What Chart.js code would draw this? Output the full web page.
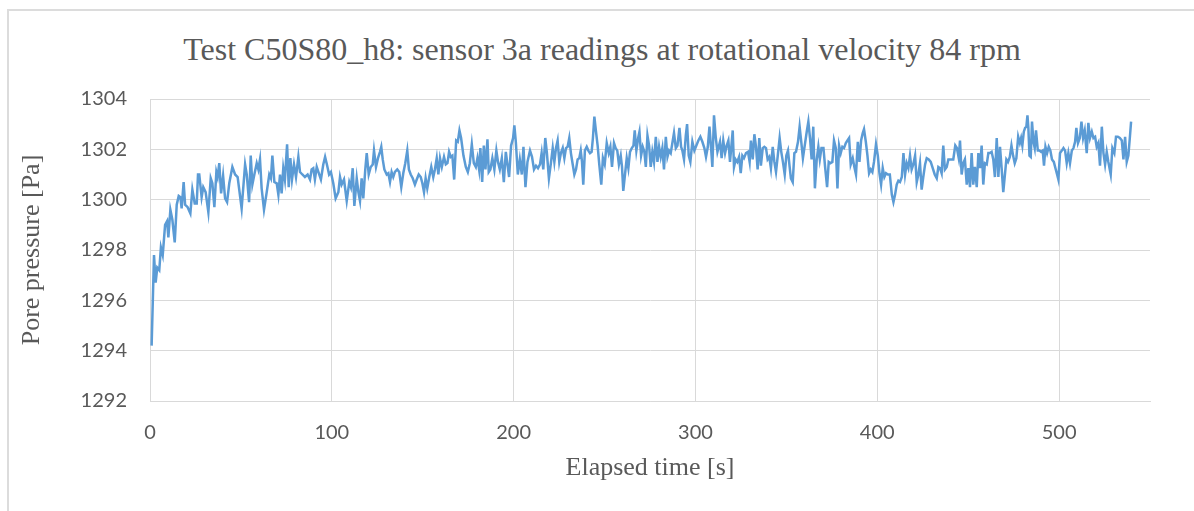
<!DOCTYPE html>
<html>
<head>
<meta charset="utf-8">
<script src="https://cdn.jsdelivr.net/npm/chart.js@4.4.1/dist/chart.umd.min.js"></script>
<style>
    html, body { margin: 0; padding: 0; background: #fff; overflow: hidden; }
    .frame { position: absolute; left: 7px; top: 9px; width: 1300px; height: 600px;
             border-left: 2px solid #dcdcdc; border-top: 2px solid #dcdcdc; }
    .chart-title { position: absolute; left: 0; top: 33px; width: 1204px; text-align: center;
                   font: 32px/32px "Liberation Serif", "Times New Roman", serif; color: #595959; white-space: nowrap; }
    .chart-container { position: absolute; left: 0; top: 0; width: 1194px; height: 511px; }
</style>
</head>
<body>
<div class="frame"></div>
<div class="chart-title">Test C50S80_h8: sensor 3a readings at rotational velocity 84 rpm</div>
<div class="chart-container"><canvas id="poreChart"></canvas></div>
<script>
// values (time in s, pressure in Pa)
const elapsedTime = [
    0.9, 2.2, 3.1, 4.0, 5.1, 6.0, 7.0, 8.3, 9.4, 10.1,
    11.2, 12.3, 13.6, 14.7, 15.8, 16.7, 17.4, 18.5, 19.3, 20.7,
    22.2, 23.3, 24.6, 25.7, 26.4, 27.1, 28.4, 29.3, 30.6, 32.1,
    33.4, 34.3, 35.4, 36.5, 37.2, 38.1, 39.1, 40.2, 41.3, 42.4,
    43.6, 45.3, 46.8, 48.2, 50.4,
    52.3, 53.2, 54.5, 55.4, 56.3, 57.4, 58.7, 59.6, 60.5, 61.4,
    62.7, 64.2, 65.6, 66.5, 67.3, 68.4, 69.7, 70.6, 71.5, 72.4,
    73.3, 74.2, 75.4, 76.3, 77.2, 78.1, 79.2, 80.3, 81.6, 82.5,
    83.8, 85.2, 86.7, 88.0, 88.9, 89.8, 90.7, 91.7, 92.6, 94.0,
    95.3, 96.3, 97.3, 98.5, 99.5, 100.8, 102.1, 103.6,
    104.5, 105.4, 106.7, 108.2, 109.6, 110.5, 111.5, 112.4, 113.7, 114.6,
    115.5, 116.4, 117.3, 118.4, 119.2, 120.3, 121.4, 122.5, 123.2, 124.3,
    125.4, 126.5, 127.2, 128.0, 128.9, 130.2, 131.1, 132.0, 132.9, 133.8,
    134.7, 136.0, 137.1, 138.2, 139.3, 140.4, 141.5, 142.4, 143.4, 144.5,
    145.7, 146.7, 147.8, 148.9, 149.8, 150.7, 151.6, 152.5, 153.6, 154.7,
    155.8, 156.7,
    157.7, 158.6, 159.5, 160.5, 161.7, 162.7, 163.6, 164.5, 165.4, 166.3,
    167.3, 168.4, 169.3, 170.2, 171.1, 172.4, 173.7, 174.8, 175.9, 177.0,
    178.1, 179.2, 180.1, 181.0, 181.7, 182.7, 183.6, 184.5, 185.6, 186.3,
    187.2, 188.3, 189.4, 190.5, 191.4, 192.4, 193.5, 194.6, 195.7, 196.6,
    197.5, 198.6, 199.7, 200.4, 201.2, 202.3, 203.4, 204.5, 205.4, 206.5,
    207.6,
    209.0, 210.1, 211.2, 212.3, 213.4, 214.5, 215.4, 216.3, 217.4, 218.3,
    219.4, 220.5, 221.5, 222.4, 223.3, 224.2, 225.1, 226.0, 227.0, 227.9,
    228.8, 229.7, 230.6, 231.5, 232.5, 233.4, 234.3, 235.2, 236.1, 236.9,
    237.6, 238.3, 239.2, 240.2, 241.1, 242.0, 242.9, 243.6, 244.4, 245.3,
    246.2, 247.1, 248.2, 249.1, 250.1, 251.2, 252.3, 253.2, 254.1, 255.2,
    256.1, 257.0, 257.9, 258.9, 259.6, 260.3,
    262.2, 263.1, 264.0, 265.0, 265.9, 266.6, 267.5, 268.5, 269.2, 270.1,
    271.0, 271.9, 272.7, 273.6, 274.5, 275.4, 276.3, 277.2, 278.2, 279.1,
    280.0, 280.9, 281.8, 282.7, 283.7, 284.6, 285.5, 286.4, 287.3, 288.2,
    289.2, 290.1, 291.2, 292.1, 292.8, 293.7, 294.7, 295.4, 296.3, 297.2,
    298.3, 299.4, 300.5, 301.6, 302.7, 303.8, 304.9, 305.8, 306.8, 307.7,
    308.6, 309.3, 310.2, 311.2, 312.1,
    313.5, 314.4, 315.3, 316.3, 317.2, 318.1, 319.0, 319.9, 320.5, 321.2,
    322.1, 323.0, 324.0, 324.9, 325.8, 326.7, 327.8, 328.9, 329.8, 330.5,
    331.5, 332.4, 333.3, 334.2, 335.1, 336.0, 337.0, 337.9, 338.8, 339.7,
    340.6, 341.5, 342.5, 343.4, 344.3, 345.2, 346.3, 347.2, 348.1, 349.1,
    350.0, 350.9, 351.8, 352.5, 353.5, 354.4, 355.3, 356.4, 357.3, 358.2,
    359.1, 360.1, 361.2, 362.1, 363.0, 363.9, 364.8, 365.7,
    366.7, 367.6, 368.4, 369.3, 370.4, 371.3, 372.4, 373.3, 374.2, 375.3,
    376.2, 377.2, 378.1, 379.0, 379.9, 380.8, 381.7, 382.7, 383.6, 384.5,
    385.4, 386.5, 387.4, 388.3, 389.3, 390.2, 391.1, 392.0, 392.7, 393.7,
    394.6, 395.5, 396.4, 397.3, 398.2, 399.3, 400.3, 401.2, 402.1, 403.0,
    403.9, 404.8, 405.8, 406.9, 408.0, 408.9, 409.8, 410.7, 411.6, 412.5,
    413.5, 414.4, 415.3, 416.2, 417.1,
    418.0, 418.9, 419.8, 420.8, 421.7, 422.6, 423.5, 424.4, 425.3, 426.3,
    427.2, 428.3, 429.4, 430.5, 431.6, 432.7, 433.6, 434.5, 435.4, 436.3,
    437.2, 438.2, 439.1, 440.4, 441.8, 442.9, 443.8, 444.8, 445.5, 446.4,
    447.3, 448.2, 449.2, 450.1, 451.0, 451.9, 452.8, 453.7, 454.7, 455.6,
    456.5, 457.4, 458.3, 459.2, 460.2, 461.1, 462.0, 462.9, 463.8, 464.7,
    465.7, 466.6, 467.5, 468.4, 469.3,
    471.0, 471.9, 472.9, 473.8, 474.7, 475.6, 476.5, 477.5, 478.4, 479.1,
    479.8, 480.6, 481.3, 482.0, 482.6, 483.1, 483.7, 484.4, 485.1, 485.9,
    486.6, 487.3, 488.3, 489.2, 490.1, 491.0, 491.7, 492.5, 493.4, 494.3,
    495.2, 496.1, 497.1, 498.0, 498.9, 499.6, 500.5, 501.5, 502.4, 503.3,
    504.2, 505.1, 506.0, 507.0, 507.9, 508.8, 509.5, 510.4, 511.4, 512.3,
    513.2, 514.1, 515.2, 516.1, 517.0, 518.0, 518.9, 519.8, 520.7, 521.6,
    522.5, 523.5, 524.4, 525.3, 526.2, 527.1, 528.4, 529.3, 530.4, 531.3,
    532.3, 533.4, 534.5, 535.4, 536.3, 537.2, 538.1, 538.9, 539.6
];

const porePressure = [
    1294.2, 1297.8, 1296.7, 1297.3, 1297.2, 1298.1, 1297.8, 1299.0, 1299.15, 1298.5,
    1299.6, 1299.2, 1298.3, 1299.8, 1300.15, 1300.1, 1299.65, 1300.7, 1299.8, 1299.7,
    1299.45, 1300.4, 1299.85, 1299.85, 1301.0, 1301.0, 1300.1, 1300.5, 1300.3, 1299.5,
    1300.85, 1300.65, 1299.7, 1301.1, 1300.9, 1301.45, 1300.25, 1300.95, 1300.05, 1299.9,
    1300.65, 1301.3, 1301.0, 1300.9, 1299.65,
    1301.4, 1301.0, 1299.9, 1301.75, 1300.6, 1301.0, 1301.45, 1301.2, 1301.6, 1300.45,
    1299.6, 1300.3, 1301.0, 1300.85, 1301.75, 1300.7, 1300.65, 1300.2, 1301.0, 1300.25,
    1301.25, 1300.8, 1302.2, 1300.5, 1301.65, 1300.8, 1301.4, 1300.9, 1301.7, 1301.1,
    1301.0, 1300.9, 1301.0, 1300.8, 1301.2, 1301.25, 1300.8, 1301.3, 1301.1, 1300.8,
    1301.4, 1301.7, 1301.4, 1301.0, 1301.1, 1300.65, 1300.05, 1300.3,
    1300.9, 1300.6, 1300.8, 1299.95, 1300.7, 1300.5, 1301.25, 1299.75, 1300.85, 1300.3,
    1299.95, 1300.85, 1300.05, 1301.2, 1301.85, 1301.0, 1301.3, 1301.4, 1301.95, 1301.3,
    1301.65, 1301.9, 1302.1, 1301.6, 1301.2, 1301.0, 1301.05, 1300.7, 1301.1, 1300.9,
    1301.1, 1301.2, 1301.1, 1300.5, 1301.05, 1301.45, 1301.95, 1301.2, 1301.0, 1300.85,
    1300.6, 1300.8, 1301.0, 1300.9, 1300.65, 1300.3, 1300.85, 1300.45, 1300.9, 1301.3,
    1300.9, 1301.2,
    1301.65, 1301.0, 1301.65, 1301.3, 1301.7, 1301.4, 1301.45, 1301.9, 1301.7, 1301.75,
    1300.8, 1302.35, 1302.3, 1302.75, 1302.45, 1301.75, 1301.3, 1301.1, 1301.45, 1302.2,
    1301.45, 1301.3, 1301.65, 1301.2, 1302.05, 1300.7, 1302.15, 1301.2, 1302.4, 1301.1,
    1301.2, 1301.65, 1301.2, 1301.95, 1301.5, 1301.2, 1301.65, 1300.7, 1301.9, 1301.4,
    1300.9, 1302.15, 1302.45, 1302.95, 1302.3, 1301.0, 1301.6, 1301.0, 1302.1, 1300.5,
    1301.5,
    1301.95, 1301.7, 1301.2, 1301.35, 1301.25, 1301.4, 1301.85, 1301.2, 1302.45, 1301.85,
    1300.85, 1301.45, 1302.05, 1301.5, 1302.05, 1302.35, 1301.5, 1301.85, 1302.05, 1301.65,
    1302.05, 1302.1, 1302.45, 1301.85, 1301.4, 1301.0, 1301.2, 1301.6, 1301.65, 1301.95,
    1301.5, 1300.6, 1301.95, 1302.1, 1301.95, 1301.85, 1301.9, 1302.45, 1303.3, 1302.7,
    1302.15, 1301.4, 1300.6, 1301.65, 1301.4, 1302.25, 1301.85, 1302.1, 1301.3, 1302.25,
    1302.05, 1301.95, 1301.4, 1301.75, 1301.3, 1300.35,
    1301.65, 1301.25, 1301.9, 1302.05, 1302.15, 1302.75, 1301.95, 1302.45, 1302.7, 1301.75,
    1302.1, 1301.9, 1301.3, 1302.55, 1302.15, 1301.3, 1301.9, 1301.5, 1302.5, 1301.5,
    1302.1, 1301.7, 1302.05, 1301.2, 1302.5, 1301.7, 1301.95, 1301.85, 1302.25, 1302.65,
    1302.05, 1302.15, 1302.85, 1302.1, 1301.95, 1301.6, 1302.55, 1303.0, 1301.75, 1301.5,
    1302.3, 1301.95, 1302.15, 1302.35, 1302.5, 1302.3, 1302.05, 1301.7, 1302.1, 1302.9,
    1302.05, 1301.3, 1303.35, 1302.45, 1301.9,
    1302.3, 1301.65, 1302.35, 1301.85, 1302.15, 1302.35, 1301.5, 1302.25, 1302.75, 1301.3,
    1301.6, 1301.5, 1301.7, 1301.05, 1301.75, 1301.65, 1301.85, 1301.9, 1301.5, 1302.35,
    1301.6, 1302.6, 1302.1, 1301.2, 1302.45, 1301.35, 1302.05, 1302.1, 1302.05, 1301.6,
    1301.7, 1301.25, 1302.1, 1301.5, 1301.1, 1301.7, 1302.45, 1301.9, 1301.5, 1301.0,
    1301.75, 1301.95, 1301.3, 1300.85, 1300.7, 1301.85, 1301.9, 1302.3, 1302.9, 1302.3,
    1301.65, 1302.15, 1302.7, 1303.1, 1302.45, 1301.6, 1302.9, 1300.45,
    1301.6, 1302.1, 1301.6, 1302.05, 1302.05, 1301.3, 1300.5, 1301.5, 1301.45, 1301.5,
    1302.35, 1302.05, 1300.45, 1302.15, 1301.85, 1302.1, 1302.05, 1302.25, 1302.35, 1302.45,
    1301.4, 1301.65, 1301.3, 1301.0, 1302.3, 1301.5, 1302.35, 1302.65, 1302.8, 1302.3,
    1301.75, 1301.05, 1301.2, 1301.1, 1301.5, 1302.2, 1301.75, 1301.05, 1300.6, 1301.25,
    1300.9, 1301.05, 1301.0, 1301.0, 1300.2, 1299.9, 1300.2, 1300.6, 1300.75, 1300.7,
    1300.9, 1301.85, 1301.0, 1301.45, 1301.25,
    1301.75, 1301.2, 1301.4, 1301.75, 1300.7, 1301.0, 1301.45, 1300.4, 1300.9, 1301.4,
    1301.65, 1301.6, 1301.5, 1301.25, 1301.0, 1300.85, 1301.3, 1301.25, 1301.05, 1302.15,
    1301.2, 1301.3, 1301.6, 1301.6, 1301.6, 1302.15, 1302.05, 1301.65, 1302.35, 1301.0,
    1301.45, 1301.6, 1300.6, 1301.25, 1300.5, 1301.85, 1300.6, 1301.3, 1300.5, 1301.85,
    1301.25, 1302.15, 1300.6, 1301.45, 1301.4, 1301.85, 1301.85, 1301.9, 1301.6, 1300.9,
    1302.45, 1300.9, 1302.1, 1301.25, 1300.3,
    1301.6, 1301.5, 1301.7, 1302.15, 1301.75, 1301.45, 1301.65, 1302.5, 1302.25, 1302.45,
    1302.15, 1302.7, 1302.85, 1302.9, 1303.35, 1302.85, 1301.75, 1301.7, 1303.1, 1302.3,
    1302.05, 1302.75, 1301.95, 1301.95, 1301.9, 1301.95, 1301.35, 1302.1, 1301.85, 1302.1,
    1301.95, 1301.6, 1301.5, 1301.25, 1301.0, 1300.8, 1301.85, 1301.95, 1302.05, 1301.95,
    1301.45, 1301.85, 1301.45, 1301.95, 1302.05, 1302.3, 1302.85, 1302.25, 1302.45, 1303.1,
    1302.45, 1302.75, 1301.85, 1303.05, 1302.45, 1302.7, 1302.45, 1302.5, 1302.1, 1302.25,
    1301.35, 1302.9, 1301.85, 1301.4, 1301.9, 1301.5, 1301.0, 1302.05, 1301.85, 1302.5,
    1302.5, 1302.45, 1302.35, 1301.6, 1302.5, 1301.5, 1301.75, 1302.45, 1303.1
];

// axis ranges and titles
const xRange = [0, 550];
const xStep = 100;
const yRange = [1292, 1304];
const yStep = 2;
const xTitle = 'Elapsed time [s]';
const yTitle = 'Pore pressure [Pa]';

const axisGrey = '#595959';
const gridGrey = '#d9d9d9';

var points = elapsedTime.map((t, i) => ({ x: t, y: porePressure[i] }));

var ctx = document.getElementById('poreChart').getContext('2d');
var chart = new Chart(ctx, {
    type: 'line',
    data: {
        datasets: [{
            label: 'sensor 3a',
            data: points,
            borderColor: '#5B9BD5',
            borderWidth: 2.5,
            pointRadius: 0,
            fill: false,
            tension: 0
        }]
    },
    options: {
        responsive: true,
        maintainAspectRatio: false,
        animation: false,
        layout: { padding: { left: 8, right: 44, top: 99, bottom: 20 } },
        plugins: {
            legend: { display: false },
            tooltip: { enabled: false }
        },
        scales: {
            x: {
                type: 'linear',
                min: xRange[0],
                max: xRange[1],
                ticks: {
                    stepSize: xStep,
                    includeBounds: false,
                    padding: 20,
                    color: axisGrey,
                    font: { family: 'Lato', size: 20 },
                    callback: (v) => String(v)
                },
                grid: { color: gridGrey, drawTicks: false },
                border: { color: gridGrey },
                title: {
                    display: true,
                    text: xTitle,
                    color: axisGrey,
                    font: { family: 'Liberation Serif', size: 26 },
                    padding: { top: 0, bottom: 7 }
                },
                afterFit: (scale) => { scale.height = 90; }
            },
            y: {
                min: yRange[0],
                max: yRange[1],
                ticks: {
                    stepSize: yStep,
                    padding: 23,
                    color: axisGrey,
                    font: { family: 'Lato', size: 20 },
                    callback: (v) => String(v)
                },
                grid: { color: gridGrey, drawTicks: false },
                border: { color: gridGrey },
                title: {
                    display: true,
                    text: yTitle,
                    color: axisGrey,
                    font: { family: 'Liberation Serif', size: 26 },
                    padding: { top: 9, bottom: 0 }
                },
                afterFit: (scale) => { scale.width = 142; }
            }
        }
    }
});
</script>
</body>
</html>
